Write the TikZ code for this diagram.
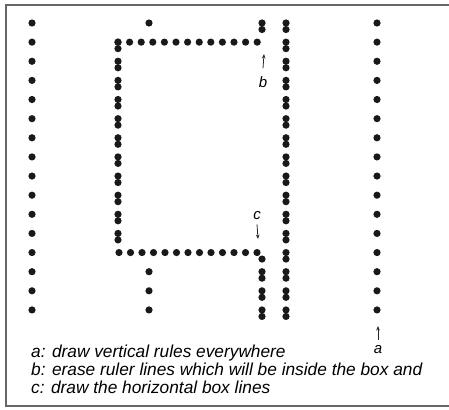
\documentclass[tikz,border=0pt]{standalone}
\usepackage{fontspec}
\setmainfont{Liberation Sans}
\usetikzlibrary{arrows.meta,positioning}

\begin{document}
\begin{tikzpicture}[x=1pt, y=-1pt,
  ink/.style={fill=black!90},
  frame/.style={draw=black!60, line width=1.6pt},
  lbl/.style={inner sep=0pt, font=\fontsize{15}{15}\selectfont\itshape},
  legend/.style={anchor=base west, inner sep=0pt,
    font=\fontsize{17.3}{18}\selectfont\itshape},
  pointer/.style={-{Stealth[length=4.5pt,width=3.6pt]}, draw=black!85,
    line width=.8pt}
]
\useasboundingbox (0,0) rectangle (449,409);
\draw[frame] (452,5) -- (6,5) -- (6,406) -- (452,406);

\def\rowgap{19.13}
% single ruler lines
\foreach \c/\rows in {32/{1,...,16}, 377/{1,...,16}, 149/{1,14,15,16}}
  \foreach \r in \rows
    \fill[ink] (\c,{23+(\r-1)*\rowgap}) circle (3.6pt);
% double ruler lines
\foreach \c/\rows in {286/{1,...,16}, 262/{1,14,15,16}, 118/{2,...,12}}
  \foreach \r in \rows {
    \fill[ink] (\c,{23+(\r-1)*\rowgap}) circle (3.6pt);
    \fill[ink] (\c,{29.5+(\r-1)*\rowgap}) circle (3.6pt);
  }
\fill[ink] (262,{29.5+12*\rowgap}) circle (3.6pt);
% horizontal box lines
\foreach \k in {0,...,12} {
  \fill[ink] ({118+\k*11.6},{23+\rowgap}) circle (3.6pt);
  \fill[ink] ({119+\k*11.5},{23+12*\rowgap}) circle (3.6pt);
}

\node[lbl] (b) at (263,82) {b};
\coordinate (btip) at (264,54);
\draw[pointer] ([yshift=8pt]b.north) -- (btip);
\node[lbl] (c) at (257,216) {c};
\coordinate (ctip) at (258,239);
\draw[pointer] ([yshift=-4pt]c.south) -- (ctip);
\node[lbl] (a) at (378,350) {a};
\coordinate (atip) at (378,326);
\draw[pointer] ([yshift=6pt]a.north) -- (atip);

\node[legend] (la) at (31,357) {a: draw vertical rules everywhere};
\node[legend] (lb) at (31,375) {b: erase ruler lines which will be inside the box and};
\node[legend] (lc) at (31,393) {c: draw the horizontal box lines};
\end{tikzpicture}
\end{document}
